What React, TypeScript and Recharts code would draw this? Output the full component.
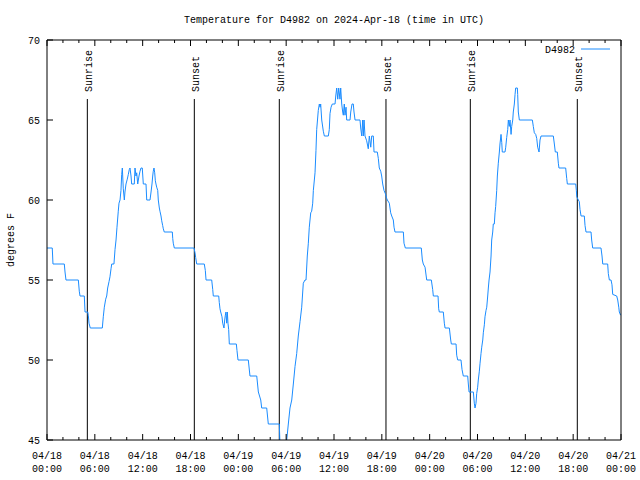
import { LineChart, Line, XAxis, YAxis, ReferenceLine, Legend } from 'recharts';

// hours since 2024-04-18 00:00 UTC
const hours = [
  0, 0.66, 0.75, 2.17, 2.26, 2.38, 3.93, 4.05, 4.14, 4.68,
  4.77, 5.11, 5.18, 5.27, 5.43, 6.94, 7.06, 7.19, 7.36, 7.49,
  7.61, 7.78, 7.9, 8.03, 8.12, 8.4, 8.53, 8.66, 8.78, 8.94,
  9.03, 9.16, 9.28, 9.37, 9.45, 9.57, 9.7, 9.78, 9.91, 10.07,
  10.2, 10.32, 10.41, 10.54, 10.62, 10.95, 11.04, 11.16, 11.25, 11.38,
  11.54, 11.67, 11.79, 11.95, 12.08, 12.42, 12.51, 12.92, 13.05, 13.17,
  13.26, 13.33, 13.42, 13.51, 13.59, 13.67, 13.76, 13.89, 13.96, 14.09,
  14.17, 14.3, 14.39, 14.51, 14.59, 14.71, 15.72, 15.77, 15.84, 15.97,
  18.44, 18.57, 18.65, 18.78, 19.73, 19.86, 19.95, 20.66, 20.79, 20.86,
  21.54, 21.61, 21.7, 21.79, 21.95, 22.04, 22.2, 22.29, 22.37, 22.45,
  22.54, 22.62, 22.7, 22.79, 22.87, 23.75, 23.83, 23.96, 25.25, 25.46,
  26.31, 26.51, 26.81, 26.93, 27.56, 27.76, 29.14, 29.27, 29.89, 30.07,
  30.27, 30.48, 30.7, 30.9, 31.11, 31.32, 31.52, 31.74, 31.95, 32.15,
  32.36, 32.49, 32.65, 32.78, 32.9, 33.08, 33.2, 33.33, 33.41, 33.62,
  33.74, 33.83, 34.03, 34.16, 34.25, 34.33, 34.46, 34.66, 34.79, 35.29,
  35.41, 35.5, 35.63, 35.79, 36.13, 36.22, 36.34, 36.47, 36.59, 36.75,
  36.84, 36.97, 37.09, 37.17, 37.29, 37.38, 37.51, 37.59, 38.01, 38.1,
  38.26, 38.42, 38.51, 38.64, 39.26, 39.35, 39.48, 39.6, 39.68, 39.77,
  39.89, 40.1, 40.3, 40.43, 40.61, 40.73, 40.93, 41.02, 41.43, 41.56,
  41.68, 41.86, 41.98, 42.11, 42.27, 42.44, 42.61, 42.69, 42.94, 43.11,
  43.24, 43.44, 43.53, 43.65, 44.7, 44.78, 44.95, 46.95, 47.08, 47.2,
  47.42, 47.63, 48.21, 48.38, 48.46, 49.05, 49.13, 49.21, 49.71, 49.84,
  49.93, 50.47, 50.64, 50.72, 51.31, 51.39, 51.52, 51.93, 52.06, 52.22,
  52.77, 52.85, 52.94, 53.48, 53.6, 53.69, 53.81, 53.9, 54.02, 54.1,
  54.23, 54.32, 54.44, 54.53, 54.66, 54.73, 54.86, 54.94, 55.07, 55.16,
  55.28, 55.36, 55.45, 55.57, 55.7, 55.78, 55.91, 55.98, 56.11, 56.2,
  56.28, 56.41, 56.49, 56.61, 56.74, 56.82, 56.95, 57.04, 57.11, 57.45,
  57.54, 57.66, 57.79, 57.87, 57.99, 58.08, 58.21, 58.29, 58.42, 58.49,
  58.62, 58.71, 58.79, 59.0, 59.04, 59.12, 59.25, 60.88, 61.0, 61.13,
  61.3, 61.43, 61.55, 61.72, 61.84, 61.97, 63.51, 63.64, 63.76, 64.01,
  64.14, 64.22, 65.06, 65.19, 65.27, 66.32, 66.4, 66.45, 66.65, 66.77,
  66.86, 66.99, 67.4, 67.49, 67.61, 68.24, 68.32, 68.45, 69.49, 69.62,
  69.71, 70.33, 70.41, 70.54, 70.75, 70.87, 70.96, 71.46, 71.59, 71.72,
  71.79, 71.95,
];

const tempsF = [
  57, 57, 56, 56, 55.5, 55, 55, 54.3, 54, 54,
  53, 53, 52.8, 52.3, 52, 52, 52.7, 53.3, 53.8, 54,
  54.5, 54.9, 55.2, 55.7, 56, 56, 56.9, 57.5, 58.3, 59.3,
  59.8, 60, 60.6, 61.6, 62, 60.7, 60, 60.5, 61, 61.3,
  61.6, 61.9, 62, 61.5, 61, 61, 62, 61.5, 61.7, 61,
  61.5, 61.8, 62, 62, 61, 61, 60, 60, 60.5, 61,
  61.5, 61.8, 62, 61.7, 61.2, 61, 60.8, 60.6, 60, 59.5,
  59.3, 59, 58.7, 58.4, 58.2, 58, 58, 57.6, 57.3, 57,
  57, 56.7, 56.4, 56, 56, 55.6, 55, 55, 54.4, 54,
  54, 53.6, 53.2, 53, 52.7, 52.3, 52, 52.5, 52.8, 53,
  52.3, 53, 52.3, 51.9, 51, 51, 50.6, 50, 50, 49,
  49, 48, 47.5, 47, 47, 46, 46, 44, 44, 45,
  46, 47, 47.5, 48.5, 49.6, 50.4, 51.5, 52.4, 53.3, 54.8,
  55, 55, 56.5, 57.3, 58.3, 59.2, 59.3, 59.8, 60.6, 61.7,
  63.1, 64.4, 65.6, 66, 65.8, 66, 65, 64.3, 64, 64,
  64.4, 65.4, 65.8, 66, 66, 66.5, 67, 66.3, 67, 66.3,
  67, 66, 65.5, 65.3, 66, 65.3, 65.8, 65, 65, 65.5,
  66, 66, 65.5, 65, 65, 64.5, 64, 65, 64, 65,
  64, 63.7, 63.2, 64, 63.3, 64, 64, 63, 63, 62.6,
  62, 61.8, 61.5, 61, 60.6, 60.4, 60.1, 60, 59.8, 59.2,
  59, 58.75, 58.3, 58, 58, 57.3, 57, 57, 56.25, 56,
  55.8, 55, 55, 54.4, 54, 54, 53.2, 53, 53, 52.3,
  52, 52, 51.25, 51, 51, 50.3, 50, 50, 49.4, 49,
  49, 48.5, 48, 48, 47.3, 47, 47.3, 47.9, 48.3, 48.75,
  49.3, 49.8, 50.4, 50.8, 51.25, 51.7, 52.2, 52.7, 53.1, 53.3,
  54, 54.5, 55, 55.5, 56.5, 57.5, 58, 58.5, 58.5, 59.2,
  59.6, 60.6, 61.5, 62.3, 63, 63.5, 64.1, 63.6, 63, 63,
  63.3, 63.9, 64.4, 65, 64.6, 65, 64.1, 64.6, 65, 65.5,
  66, 66.6, 67, 67, 66.6, 65.5, 65, 65, 64.6, 64.2,
  64.1, 63.85, 63.3, 63, 63.75, 64, 64, 63.5, 63, 63,
  62.3, 62, 62, 61.35, 61, 61, 60.6, 60.2, 60, 59.9,
  59.4, 59, 59, 58.4, 58, 58, 57.5, 57, 57, 56.5,
  56, 56, 55.4, 55, 55, 54.7, 54.1, 54, 53.75, 53.3,
  53, 52.8,
];

const majorHours = [0, 6, 12, 18, 24, 30, 36, 42, 48, 54, 60, 66, 72];
const majorDates = ['04/18', '04/18', '04/18', '04/18', '04/19', '04/19', '04/19', '04/19', '04/20', '04/20', '04/20', '04/20', '04/21'];
const majorTimes = ['00:00', '06:00', '12:00', '18:00', '00:00', '06:00', '12:00', '18:00', '00:00', '06:00', '12:00', '18:00', '00:00'];
const xTicks = [
  0, 2, 4, 6, 8, 10, 12, 14, 16, 18, 20, 22, 24, 26, 28, 30, 32, 34, 36,
  38, 40, 42, 44, 46, 48, 50, 52, 54, 56, 58, 60, 62, 64, 66, 68, 70, 72,
];
const yTicks = [45, 50, 55, 60, 65, 70];

const sunHours = [5.06, 18.48, 29.14, 42.52, 53.1, 66.52];
const sunLabels = ['Sunrise', 'Sunset', 'Sunrise', 'Sunset', 'Sunrise', 'Sunset'];

const data = hours.map((h, i) => ({ h, t: tempsF[i] }));

const FONT = "'Liberation Mono', 'DejaVu Sans Mono', monospace";
const LINE_COLOR = '#1a8cff';

const textStyle = { fontFamily: FONT, fontSize: 10, fill: '#000' };

function BottomTick({ x, y, payload }: any) {
  const i = majorHours.indexOf(payload.value);
  if (i < 0) return <line x1={x} x2={x} y1={y} y2={y - 3} stroke="#000" />;
  return (
    <g>
      <line x1={x} x2={x} y1={y} y2={y - 6} stroke="#000" />
      <text x={x} y={y + 19} textAnchor="middle" style={textStyle}>{majorDates[i]}</text>
      <text x={x} y={y + 32} textAnchor="middle" style={textStyle}>{majorTimes[i]}</text>
    </g>
  );
}

function TopTick({ x, y, payload }: any) {
  const len = majorHours.includes(payload.value) ? 6 : 3;
  return <line x1={x} x2={x} y1={y} y2={y + len} stroke="#000" />;
}

function LeftTick({ x, y, payload }: any) {
  return (
    <g>
      <line x1={x} x2={x + 6} y1={y} y2={y} stroke="#000" />
      <text x={x - 7} y={y + 4} textAnchor="end" style={textStyle}>{payload.value}</text>
    </g>
  );
}

function RightTick({ x, y }: any) {
  return <line x1={x} x2={x - 6} y1={y} y2={y} stroke="#000" />;
}

function sunShape(label: string) {
  return (props: any) => {
    const x = props.x1;
    const top = Math.min(props.y1, props.y2);
    const bottom = Math.max(props.y1, props.y2);
    return (
      <g>
        <line x1={x} x2={x} y1={top + 59} y2={bottom} stroke="#000" strokeWidth={1} />
        <text
          x={x + 4.7}
          y={top + 52}
          textAnchor="start"
          transform={`rotate(-90, ${x + 4.7}, ${top + 52})`}
          style={textStyle}
        >
          {label}
        </text>
      </g>
    );
  };
}

function LegendBox() {
  return (
    <svg width={80} height={14} style={{ display: 'block' }}>
      <text x={35} y={11} textAnchor="end" style={textStyle}>D4982</text>
      <line x1={41} x2={70} y1={7} y2={7} stroke={LINE_COLOR} strokeWidth={1} />
    </svg>
  );
}

export default function App() {
  return (
    <div style={{ position: 'absolute', left: 0, top: 0, width: 640, height: 480, background: '#fff' }}>
      <LineChart
        width={640}
        height={480}
        data={data}
        margin={{ top: 0, right: 0, bottom: 0, left: 0 }}
      >
        <XAxis
          dataKey="h"
          type="number"
          domain={[0, 72]}
          ticks={xTicks}
          interval={0}
          height={40}
          tickSize={0}
          tickMargin={0}
          axisLine={{ stroke: '#000' }}
          tickLine={false}
          tick={<BottomTick />}
        />
        <XAxis
          xAxisId="top"
          orientation="top"
          dataKey="h"
          type="number"
          domain={[0, 72]}
          ticks={xTicks}
          interval={0}
          height={40}
          tickSize={0}
          tickMargin={0}
          axisLine={{ stroke: '#000' }}
          tickLine={false}
          tick={<TopTick />}
        />
        <YAxis
          type="number"
          domain={[45, 70]}
          ticks={yTicks}
          interval={0}
          allowDataOverflow
          width={47}
          tickSize={0}
          tickMargin={0}
          axisLine={{ stroke: '#000' }}
          tickLine={false}
          tick={<LeftTick />}
        />
        <YAxis
          yAxisId="right"
          orientation="right"
          type="number"
          domain={[45, 70]}
          ticks={yTicks}
          interval={0}
          width={19}
          tickSize={0}
          tickMargin={0}
          axisLine={{ stroke: '#000' }}
          tickLine={false}
          tick={<RightTick />}
        />
        {sunHours.map((h, i) => (
          <ReferenceLine key={i} x={h} stroke="#000" shape={sunShape(sunLabels[i])} />
        ))}
        <Line
          type="linear"
          dataKey="t"
          stroke={LINE_COLOR}
          strokeWidth={1}
          dot={false}
          isAnimationActive={false}
        />
        <Legend
          layout="horizontal"
          verticalAlign="middle"
          align="center"
          wrapperStyle={{ top: 42, left: 540, width: 80 }}
          content={() => <LegendBox />}
        />
        <text x={334} y={23} textAnchor="middle" style={textStyle}>
          Temperature for D4982 on 2024-Apr-18 (time in UTC)
        </text>
        <text x={14} y={240} textAnchor="middle" transform="rotate(-90, 14, 240)" style={textStyle}>
          degrees F
        </text>
      </LineChart>
    </div>
  );
}
